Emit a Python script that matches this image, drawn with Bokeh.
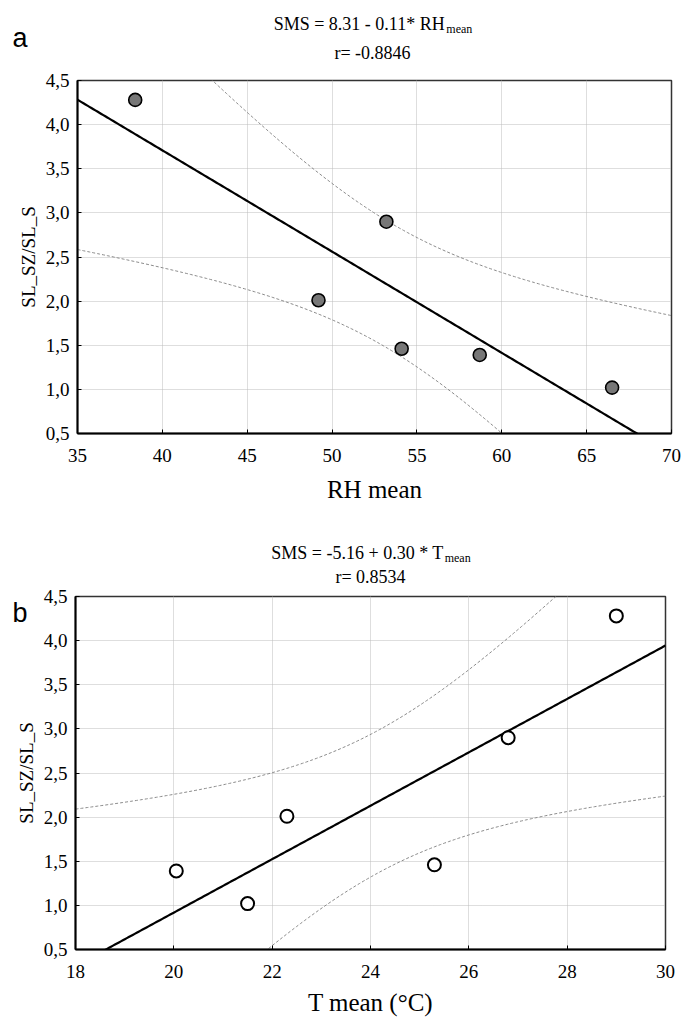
import numpy as np
from bokeh.plotting import figure
from bokeh.models import Label, FixedTicker, Range1d
from bokeh.layouts import column
from bokeh.embed import file_html
from bokeh.resources import INLINE

# ---------------- data ----------------
rh_mean = [38.4, 49.2, 53.2, 54.1, 58.7, 66.5]
t_mean = [29.0, 22.3, 26.8, 25.3, 20.05, 21.5]
sms_ratio = [4.28, 2.01, 2.90, 1.46, 1.39, 1.02]

y_ticks = [0.5, 1.0, 1.5, 2.0, 2.5, 3.0, 3.5, 4.0, 4.5]
y_tick_labels = ["0,5", "1,0", "1,5", "2,0", "2,5", "3,0", "3,5", "4,0", "4,5"]
rh_ticks = [35, 40, 45, 50, 55, 60, 65, 70]
t_ticks = [18, 20, 22, 24, 26, 28, 30]

title_a_main = "SMS = 8.31 - 0.11* RH"
title_a_r = "r= -0.8846"
title_b_main = "SMS = -5.16 + 0.30 * T"
title_b_r = "r= 0.8534"
sub_text = "mean"

SERIF = "Liberation Serif"
T_CRIT = 2.776  # t(0.975, df=4)
W = 683


def fit_band(x, y, lo, hi):
    x = np.asarray(x, float)
    y = np.asarray(y, float)
    n = len(x)
    b, a = np.polyfit(x, y, 1)
    res = y - (a + b * x)
    s = np.sqrt(np.sum(res ** 2) / (n - 2))
    mx = x.mean()
    sxx = np.sum((x - mx) ** 2)
    xs = np.linspace(lo, hi, 300)
    yh = a + b * xs
    se = s * np.sqrt(1.0 / n + (xs - mx) ** 2 / sxx)
    return xs, yh, yh - T_CRIT * se, yh + T_CRIT * se


def style(p, xticks, xlabel_standoff):
    p.xaxis.ticker = FixedTicker(ticks=xticks)
    p.yaxis.ticker = FixedTicker(ticks=y_ticks)
    p.yaxis.major_label_overrides = dict(zip(y_ticks, y_tick_labels))
    for ax in (p.xaxis[0], p.yaxis[0]):
        ax.major_label_text_font = SERIF
        ax.major_label_text_font_size = "19px"
        ax.major_label_text_color = "black"
        ax.axis_label_text_font = SERIF
        ax.axis_label_text_font_style = "normal"
        ax.axis_label_text_color = "black"
        ax.axis_line_color = "black"
        ax.axis_line_width = 2
        ax.major_tick_in = 4
        ax.major_tick_out = 0
        ax.major_tick_line_color = "black"
        ax.minor_tick_line_color = None
    p.xaxis.major_label_standoff = 15
    p.yaxis.major_label_standoff = 8
    p.xaxis.axis_label_text_font_size = "25px"
    p.xaxis.axis_label_standoff = xlabel_standoff
    p.yaxis.axis_label_text_font_size = "19px"
    p.yaxis.axis_label_standoff = 4
    p.xgrid.ticker = FixedTicker(ticks=xticks)
    p.ygrid.ticker = FixedTicker(ticks=y_ticks)
    for g in (p.xgrid[0], p.ygrid[0]):
        g.grid_line_color = "#bdbdbd"
        g.grid_line_dash = "1 1"
        g.grid_line_width = 1
    p.outline_line_color = "#333333"
    p.outline_line_width = 1.5
    p.background_fill_color = "white"


def header(height, transparent=False):
    h = figure(width=W, height=height, output_backend="svg", toolbar_location=None,
               x_range=Range1d(0, W), y_range=Range1d(0, height),
               x_axis_location=None, y_axis_location=None, frame_align=False,
               min_border_left=0, min_border_right=0,
               min_border_top=0, min_border_bottom=0)
    h.grid.visible = False
    h.outline_line_color = None
    if transparent:
        h.background_fill_color = None
        h.border_fill_color = None
    else:
        h.background_fill_color = "white"
        h.border_fill_color = "white"
    return h


# approximate Times/Liberation Serif advance widths (em)
_W = {"S": .556, "M": .889, " ": .25, "=": .564, "-": .333, "+": .564, ".": .25,
      "*": .5, "R": .667, "H": .722, "T": .611, "m": .778, "e": .444, "a": .444, "n": .5}


def len_em(s):
    return sum(_W.get(c, .5) for c in s)


def add_titles(h, htop, cx, main, r_text, letter, y_main, y_r, letter_x, letter_base):
    # y values given in page pixels; header spans from page y = htop downward
    H = h.height
    main_w = len_em(main) * 18
    sub_w = len_em(sub_text) * 12
    left = cx - (main_w + sub_w) / 2.0
    h.add_layout(Label(x=left, y=H - (y_main - htop), text=main, text_font=SERIF,
                       text_font_size="18px", text_align="left", text_baseline="middle",
                       text_color="black"))
    h.add_layout(Label(x=left + main_w + 1, y=H - (y_main - htop) - 5, text=sub_text,
                       text_font=SERIF, text_font_size="12px", text_align="left",
                       text_baseline="middle", text_color="black"))
    h.add_layout(Label(x=cx, y=H - (y_r - htop), text=r_text, text_font=SERIF,
                       text_font_size="18px", text_align="center", text_baseline="middle",
                       text_color="black"))
    h.add_layout(Label(x=letter_x, y=H - (letter_base - htop), text=letter,
                       text_font="Liberation Sans", text_font_size="27px",
                       text_align="left", text_baseline="alphabetic", text_color="black"))


# ---------------- panel a ----------------
ha = header(68)                       # page y 0..68
add_titles(ha, 0, 372, title_a_main, title_a_r, "a", 23, 52, 12, 37)

pa = figure(width=W, height=437, output_backend="svg", toolbar_location=None,
            x_range=Range1d(35, 70), y_range=Range1d(0.5, 4.5), frame_align=False,
            min_border_left=77, min_border_right=12, min_border_top=12, min_border_bottom=72,
            x_axis_label="RH mean", y_axis_label="SL_SZ/SL_S")
style(pa, rh_ticks, 11)
pa.border_fill_color = "white"
xs, yh, lo, hi = fit_band(rh_mean, sms_ratio, 35, 70)
pa.line(xs, lo, line_color="#8a8a8a", line_dash="3 2", line_width=1)
pa.line(xs, hi, line_color="#8a8a8a", line_dash="3 2", line_width=1)
pa.line(xs, yh, line_color="black", line_width=2.2)
pa.scatter(rh_mean, sms_ratio, size=13, fill_color="#777777", line_color="black", line_width=1.6)

# ---------------- panel b ----------------
hb = header(125, transparent=True)    # page y 505..630, drawn over the top of panel b
hb.styles = {"position": "relative", "z-index": "2"}
add_titles(hb, 505, 370, title_b_main, title_b_r, "b", 552, 576, 12, 612)

pb = figure(width=W, height=435, output_backend="svg", toolbar_location=None,
            x_range=Range1d(18, 30), y_range=Range1d(0.5, 4.5), frame_align=False,
            min_border_left=75, min_border_right=18, min_border_top=12, min_border_bottom=70,
            x_axis_label="T mean (\u00b0C)", y_axis_label="SL_SZ/SL_S")
style(pb, t_ticks, 8)
pb.border_fill_color = None
pb.styles = {"margin-top": "-46px", "position": "relative", "z-index": "1"}  # page y 584..1019
xs, yh, lo, hi = fit_band(t_mean, sms_ratio, 18, 30)
pb.line(xs, lo, line_color="#8a8a8a", line_dash="3 2", line_width=1)
pb.line(xs, hi, line_color="#8a8a8a", line_dash="3 2", line_width=1)
pb.line(xs, yh, line_color="black", line_width=2.2)
pb.scatter(t_mean, sms_ratio, size=13, fill_color="white", line_color="black", line_width=2)

layout = column(ha, pa, hb, pb, spacing=0)
open("out.html", "w").write(file_html(layout, INLINE))
